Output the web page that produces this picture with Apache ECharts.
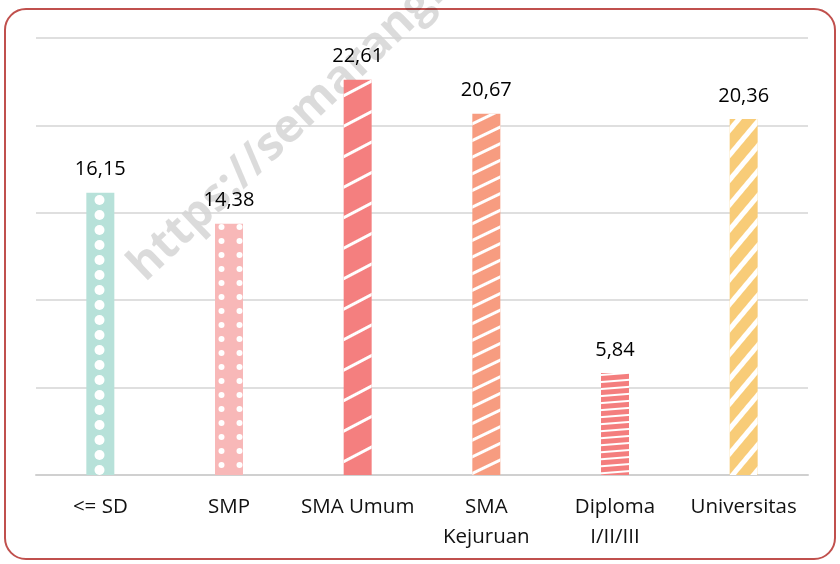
<!DOCTYPE html>
<html>
<head>
<meta charset="utf-8">
<script src="https://cdn.jsdelivr.net/npm/echarts@6/dist/echarts.min.js"></script>
<style>
  body { margin: 0; background: #fff; }
  #frame { position: absolute; left: 4px; top: 8px; width: 828px; height: 548px;
           border: 2px solid #C0504D; border-radius: 22px; }
  #container { position: absolute; left: 0; top: 0; width: 840px; height: 564px; }
</style>
</head>
<body>
<div id="frame"></div>
<div id="container"></div>
<script>
var categories = ['<= SD', 'SMP', 'SMA Umum', 'SMA\nKejuruan', 'Diploma\nI/II/III', 'Universitas'];
var values = [16.15, 14.38, 22.61, 20.67, 5.84, 20.36];
var barColors = ['#B7E1D9', '#F8B8B8', '#F47F7F', '#F79C80', '#F47E7E', '#F8CC78'];

// pola tiap batang
var decals = [
	{ symbol: 'circle', symbolSize: 1, dashArrayX: [11, 36], dashArrayY: [10, 5], color: '#fff' },
	{ symbol: 'circle', symbolSize: 1, symbolKeepAspect: false, dashArrayX: [11, 7], dashArrayY: [6, 8], color: '#fff' },
	{ symbol: 'rect', dashArrayX: [1, 0], dashArrayY: [3, 24], rotation: -Math.PI / 6.5, color: '#fff' },
	{ symbol: 'rect', dashArrayX: [1, 0], dashArrayY: [2.5, 12], rotation: -Math.PI / 7, color: '#fff' },
	{ symbol: 'rect', dashArrayX: [1, 0], dashArrayY: [1.5, 4.5], rotation: -Math.PI / 40, color: '#fff' },
	{ symbol: 'rect', dashArrayX: [1, 0], dashArrayY: [5, 11], rotation: -Math.PI / 3.6, color: '#fff' }
];

var dom = document.getElementById('container');
var myChart = echarts.init(dom);

var data = values.map(function(v, i) {
	return {
		value: v,
		itemStyle: { color: barColors[i], decal: decals[i] }
	};
});

var option = {
	animation: false,
	aria: { enabled: true, decal: { show: true } },
	graphic: [{
		type: 'text',
		x: 152,
		y: 290,
		rotation: 0.76,
		z: 0,
		style: {
			text: 'https://semarangkota.bps.go.id',
			font: 'bold 46px "Open Sans", sans-serif',
			fill: 'rgba(0,0,0,0.14)',
			verticalAlign: 'bottom'
		}
	}],
	grid: { left: 36, right: 32, top: 38, bottom: 89 },
	xAxis: {
		type: 'category',
		data: categories,
		axisTick: { show: false },
		axisLine: { lineStyle: { color: '#D0D0D0', width: 2 } },
		axisLabel: {
			color: '#111',
			fontSize: 20.5,
			fontFamily: 'Open Sans',
			margin: 17,
			lineHeight: 30,
			interval: 0
		}
	},
	yAxis: {
		type: 'value',
		min: 0,
		max: 25,
		interval: 5,
		axisLabel: { show: false },
		axisLine: { show: false },
		axisTick: { show: false },
		splitLine: { lineStyle: { color: '#D4D4D4', width: 1.5 } }
	},
	series: [{
		type: 'bar',
		barWidth: 28,
		data: data,
		z: 2,
		label: {
			show: true,
			position: 'top',
			distance: 13,
			color: '#000',
			fontSize: 20,
			fontFamily: 'Open Sans',
			formatter: function(p) { return String(p.value).replace('.', ','); }
		}
	}]
};

if (option && typeof option === 'object') {
	myChart.setOption(option, true);
}
</script>
</body>
</html>
